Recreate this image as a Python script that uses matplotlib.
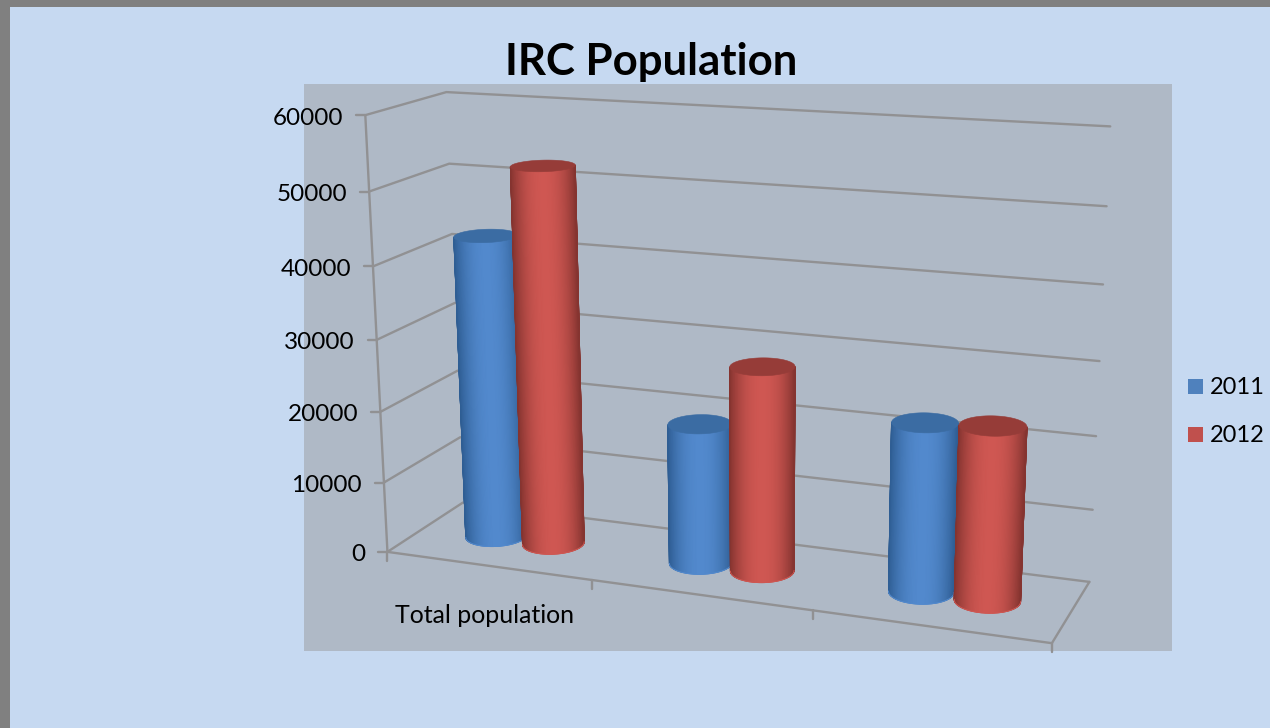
import numpy as np
import matplotlib
matplotlib.use('Agg')
import matplotlib.pyplot as plt
from matplotlib.patches import Rectangle, Polygon
from matplotlib.colors import LinearSegmentedColormap

# chart values
categories = ['Total population', '', '']
years = ['2011', '2012']
values_2011 = [42700, 19500, 22900]
values_2012 = [52700, 28200, 23400]
y_ticks = [0, 10000, 20000, 30000, 40000, 50000, 60000]

# colours: side edge, side centre, top
blue = ('#2f5e94', '#5289cd', '#3b6ca3')
red = ('#853430', '#cf5752', '#963c38')

plt.rcParams['font.family'] = ['Lato', 'DejaVu Sans']

fig = plt.figure(figsize=(12.7, 7.28), dpi=100, facecolor='#808080')
ax = fig.add_axes([0, 0, 1, 1])
ax.set_xlim(0, 1270)
ax.set_ylim(728, 0)
ax.axis('off')

ax.add_patch(Rectangle((10, 7), 1260, 721, fc='#c6d9f1', ec='none', zorder=0))
ax.add_patch(Rectangle((304, 84), 868, 567, fc='#afb9c6', ec='none', zorder=1))

# fit the perspective of the 3d box: (category, depth, value/60000) -> pixel
calib = [
    ((0, 0, 0), (386, 553)), ((0, 0, 1), (367, 115)), ((0, 1, 0), (465, 502)),
    ((0, 1, 1), (445, 92)), ((3, 1, 1), (1110, 127)), ((3, 1, 0), (1089, 582)),
    ((3, 0, 0), (1052, 643)), ((1, 0, 0), (591, 580)), ((2, 0, 0), (813, 610)),
    ((0, 0, 5 / 6), (370, 191)), ((3, 1, 5 / 6), (1107, 206)), ((3, 1, 0.5), (1100, 361)),
    ((0, 1, 5 / 6), (447, 164)), ((0, 1, 2 / 3), (453, 234)),
]
rows = []
for (X, Y, Z), (u, v) in calib:
    rows.append([X, Y, Z, 1, 0, 0, 0, 0, -u * X, -u * Y, -u * Z, -u])
    rows.append([0, 0, 0, 0, X, Y, Z, 1, -v * X, -v * Y, -v * Z, -v])
P = np.linalg.svd(np.array(rows, dtype=float))[2][-1].reshape(3, 4)


def project(x, d, val):
    x, d, val = np.broadcast_arrays(x, d, np.asarray(val, dtype=float) / 60000)
    h = P @ np.array([x, d, val, np.ones_like(x)], dtype=float)
    return h[0] / h[2], h[1] / h[2]


grid = dict(color='#919193', lw=1.7, zorder=2, solid_capstyle='round')
n = len(categories)

# gridlines on the two walls, value ticks
for t in y_ticks:
    x0, y0 = project(0, 0, t)
    x1, y1 = project(0, 1, t)
    x2, y2 = project(n, 1, t)
    ax.plot([x0, x1, x2], [y0, y1, y2], **grid)
    ax.plot([x0 - 9, x0], [y0, y0], **grid)
    ax.text(x0 - 22, y0 + 3, str(t), ha='right', va='center', fontsize=17.5, color='black', zorder=6)

# box edges
x0, y0 = project(0, 0, 0)
x1, y1 = project(0, 0, 60000)
ax.plot([x0, x1], [y0, y1], **grid)
xs, ys = project([0, n, n], [0, 0, 1], 0)
ax.plot(xs, ys, **grid)

# category ticks
for i in range(n + 1):
    tx, ty = project(i, 0, 0)
    ax.plot([tx, tx], [ty, ty + 9], **grid)

for i, name in enumerate(categories):
    tx, ty = project(i + 0.45, 0, 0)
    ax.text(tx + 7, ty + 51, name, ha='center', va='center', fontsize=17.9, color='black', zorder=6)


def cylinder(x, val, cols):
    edge, mid, top = cols
    rx, rd, dc = 0.137, 0.2, 0.5

    # find the true silhouette of the circle, it is not at 180 degrees in perspective
    cx0, cy0 = project(x, dc, 0)
    cx1, cy1 = project(x, dc, val)
    axis = np.array([cx1 - cx0, cy1 - cy0]) / np.hypot(cx1 - cx0, cy1 - cy0)
    probe = np.linspace(np.pi / 2, 5 * np.pi / 2, 721)
    px, py = project(x + rx * np.cos(probe), dc + rd * np.sin(probe), 0)
    perp = (px - cx0) * -axis[1] + (py - cy0) * axis[0]
    half = len(probe) // 2
    a0 = probe[np.argmax(np.abs(perp[:half]))]
    a1 = probe[half + np.argmax(np.abs(perp[half:]))]

    ang = np.linspace(a0, a1, 81)
    bx, by = project(x + rx * np.cos(ang), dc + rd * np.sin(ang), 0)
    tx, ty = project(x + rx * np.cos(ang), dc + rd * np.sin(ang), val)
    pos = (bx - cx0) * -axis[1] + (by - cy0) * axis[0]
    shade = 1 - np.abs(pos / np.abs(pos).max()) ** 2.2
    cmap = LinearSegmentedColormap.from_list('side', [edge, mid])
    ax.pcolormesh(np.array([bx, tx]), np.array([by, ty]), np.array([shade, shade]),
                  shading='gouraud', cmap=cmap, vmin=0, vmax=1, zorder=3)
    # soften the mesh outline
    ax.plot([tx[0], bx[0]], [ty[0], by[0]], color=edge, lw=0.7, zorder=3)
    ax.plot([tx[-1], bx[-1]], [ty[-1], by[-1]], color=edge, lw=0.7, zorder=3)
    ax.plot(bx, by, color=mid, lw=0.7, zorder=3)
    full = np.linspace(0, 2 * np.pi, 90)
    ex, ey = project(x + rx * np.cos(full), dc + rd * np.sin(full), val)
    ax.add_patch(Polygon(np.c_[ex, ey], fc=top, ec=top, lw=0.4, zorder=3))


# bars sit in the middle of the depth, 2011 left and 2012 right in each category
for i in range(n):
    cylinder(i + 0.360, values_2011[i], blue)
    cylinder(i + 0.646, values_2012[i], red)

ax.text(651, 62, 'IRC Population', ha='center', va='center', fontsize=31.5, fontweight='bold', color='black', zorder=6)

# legend
for yr, c, y in zip(years, ['#4f81bd', '#c0504d'], [387, 435]):
    ax.add_patch(Rectangle((1188, y - 8), 15, 15, fc=c, ec='none', zorder=5))
    ax.text(1210, y + 1, yr, ha='left', va='center', fontsize=17, color='black', zorder=6)

fig.savefig('out.png', dpi=100, facecolor=fig.get_facecolor())
